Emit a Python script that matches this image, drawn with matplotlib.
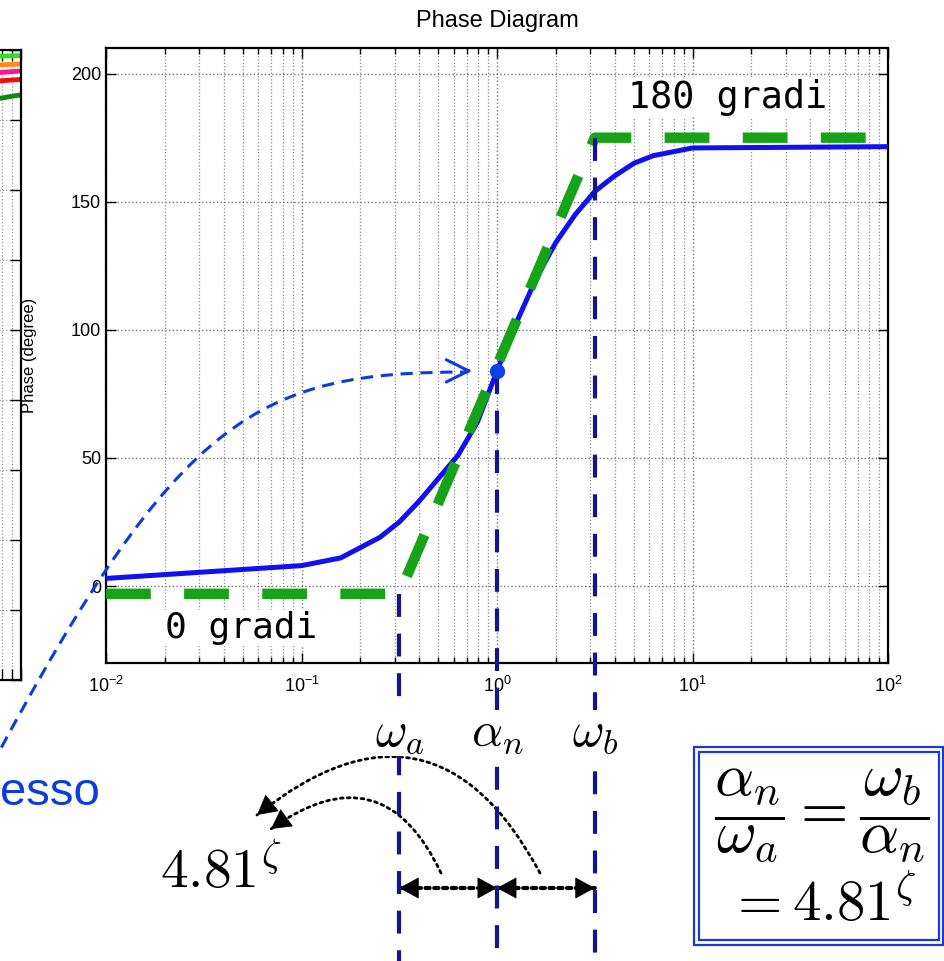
import numpy as np
import matplotlib.pyplot as plt
from matplotlib.patches import Rectangle, PathPatch
from matplotlib.path import Path

W, H = 944, 961

# phase curve (exponent of frequency, degrees)
freq_exp = [-2, -1.5, -1, -0.8, -0.7, -0.6, -0.5, -0.4, -0.3, -0.2, -0.1, 0,
            0.1, 0.2, 0.3, 0.4, 0.5, 0.6, 0.7, 0.8, 1, 2]
phase = [3, 5.5, 8, 11, 15, 19, 25, 33, 42, 51, 64, 84,
         103, 120, 134, 145, 154, 160, 165, 168, 171, 171.5]

# straight-line approximation
w_a, alpha_n, w_b = 10 ** -0.5, 1.0, 10 ** 0.5
asym_freq = [1e-2, w_a, w_b, 1e2]
asym_phase = [-3, -3, 175, 175]
phase_at_alpha = 84

# the piece of the neighbouring plot that shows at the left edge
left_freq = [30, 100]
left_series = [[44, 46], [37, 40], [30, 35], [24, 29], [6, 18]]
left_colors = ['#33dd22', '#ff8c1a', '#ff1493', '#ee1111', '#118811']

yticks = [0, 50, 100, 150, 200]

blue = '#1010f0'
green = '#17a317'
navy = '#14148c'
arrow_blue = '#0a3ddc'


def fx(px):
    return px / W


def fy(py):
    return 1 - py / H


fig = plt.figure(figsize=(9.44, 9.61), dpi=100)
plt.rcParams['font.family'] = ['Liberation Sans', 'DejaVu Sans']

# left (cropped) plot
axl = fig.add_axes([fx(21 - 782), fy(680), fx(782), fy(50) - fy(680)])
axl.set_xscale('log')
axl.set_xlim(1e-2, 1e2)
axl.set_ylim(-400, 50)
axl.set_yticks(range(-400, 51, 50))
for vals, c in zip(left_series, left_colors):
    axl.plot(left_freq, vals, color=c, lw=3.5)
axl.grid(True, which='both', ls=':', color='0.6', lw=0.9)
axl.tick_params(which='both', direction='in', right=True, top=True,
                labelleft=False, labelbottom=False, length=8, width=1)
for s in axl.spines.values():
    s.set_linewidth(1.6)

# main phase plot
ax = fig.add_axes([fx(106), fy(663), fx(888) - fx(106), fy(48) - fy(663)])
ax.set_xscale('log')
ax.set_xlim(1e-2, 1e2)
ax.set_ylim(-30, 210)
ax.set_yticks(yticks)
ax.grid(True, which='major', ls=':', color='0.45', lw=1)
ax.grid(True, which='minor', axis='x', ls=':', color='0.55', lw=0.9)
ax.tick_params(which='both', direction='in', top=True, right=True, labelsize=13, width=1)
ax.tick_params(which='major', length=7)
ax.tick_params(which='minor', length=4)
ax.tick_params(axis='x', pad=9)
for s in ax.spines.values():
    s.set_linewidth(1.6)

ax.set_title('Phase Diagram', fontsize=17, pad=15)
ax.set_ylabel('Phase (degree)', fontsize=12)
ax.yaxis.set_label_coords(-0.088, 0.5)

ax.plot(10 ** np.array(freq_exp), phase, color=blue, lw=3.6, zorder=4)
ax.plot(asym_freq, asym_phase, color=green, lw=7.5, dashes=(4.3, 3.2), zorder=5)

# vertical markers running down past the axes
pos = ax.get_position()
y0, y1 = ax.get_ylim()
ybot = y0 - (y1 - y0) * pos.y0 / pos.height
for xv, ytop in [(w_a, asym_phase[1]), (alpha_n, phase_at_alpha), (w_b, asym_phase[2])]:
    ax.plot([xv, xv], [ytop, ybot], color=navy, lw=3, dashes=(5.5, 4),
            clip_on=False, zorder=6)
ax.plot([alpha_n], [phase_at_alpha], 'o', color='#1040e0', ms=10, zorder=7)

ax.text(fx(165), fy(628), '0 gradi', transform=fig.transFigure, fontsize=26,
        family='DejaVu Sans Mono', va='center', ha='left', zorder=3,
        bbox=dict(fc='white', ec='none', pad=1))
ax.text(fx(628), fy(97), '180 gradi', transform=fig.transFigure, fontsize=26.5,
        family='DejaVu Sans Mono', va='center', ha='left', zorder=3,
        bbox=dict(fc='white', ec='none', pad=1))

# labels under the axis
for xv, lab in [(w_a, r'$\omega_a$'), (alpha_n, r'$\alpha_n$'), (w_b, r'$\omega_b$')]:
    ax.annotate(lab, xy=(xv, fy(733)), xycoords=('data', 'figure fraction'),
                ha='center', va='center', fontsize=35, math_fontfamily='cm',
                annotation_clip=False, zorder=8,
                bbox=dict(fc='white', ec='none', pad=0.5))

# dashed blue arrow from "flesso" to the inflection point (cubic curve, figure pixels)
ctrl = [(-8, 765), (180, 412), (260, 372), (468, 372)]
curve = Path([(fx(x), fy(y)) for x, y in ctrl],
             [Path.MOVETO, Path.CURVE4, Path.CURVE4, Path.CURVE4])
fig.add_artist(PathPatch(curve, transform=fig.transFigure, fill=False,
                         ec=arrow_blue, lw=2.2, ls=(0, (4, 2.5))))
x_tip = 10 ** -0.128
ax.annotate('', xy=(x_tip, phase_at_alpha), xytext=(10 ** -0.16, phase_at_alpha),
            arrowprops=dict(arrowstyle='->,head_length=0.4,head_width=0.2',
                            color=arrow_blue, lw=2.2, mutation_scale=40,
                            shrinkA=0, shrinkB=0))
fig.text(0, fy(793), 'esso', color=arrow_blue, fontsize=34,
         ha='left', va='center')

head = dict(arrowstyle='-|>,head_length=0.55,head_width=0.3', color='k', lw=0.5,
            mutation_scale=24, shrinkA=0, shrinkB=0)

# dotted double arrows between the markers, solid heads
for xa, xb in [(w_a, alpha_n), (alpha_n, w_b)]:
    ax.annotate('', xy=(xb, fy(888)), xycoords=('data', 'figure fraction'),
                xytext=(xa, fy(888)), textcoords=('data', 'figure fraction'),
                annotation_clip=False,
                arrowprops=dict(arrowstyle='-', color='k', lw=3, ls=(0, (1, 1.1)),
                                shrinkA=0, shrinkB=0))
    for xv, off in [(xb, -3), (xa, 3)]:
        ax.annotate('', xy=(xv, fy(888)), xycoords=('data', 'figure fraction'),
                    xytext=(off, 0), textcoords='offset points',
                    annotation_clip=False, arrowprops=head)

# dotted curved arrows towards 4.81^zeta
rad = 0.6
for (xs, ys), (xe, ye) in [((540, 873), (257, 815)), ((441, 873), (271, 829))]:
    ax.annotate('', xy=(fx(xe), fy(ye)), xycoords='figure fraction',
                xytext=(fx(xs), fy(ys)), textcoords='figure fraction',
                annotation_clip=False,
                arrowprops=dict(arrowstyle='-', color='k', lw=2, ls=(0, (1, 1.5)),
                                connectionstyle=f'arc3,rad={rad}',
                                shrinkA=0, shrinkB=0))
    # direction of the curve at its end, for the solid head
    ax_, ay_ = xs, H - ys
    bx_, by_ = xe, H - ye
    cx = (ax_ + bx_) / 2 + rad * (by_ - ay_)
    cy = (ay_ + by_) / 2 - rad * (bx_ - ax_)
    t = np.array([bx_ - cx, by_ - cy])
    t = t / np.hypot(*t)
    ax.annotate('', xy=(fx(xe), fy(ye)), xycoords='figure fraction',
                xytext=(-3 * t[0], -3 * t[1]), textcoords='offset points',
                annotation_clip=False, arrowprops=head)

fig.text(fx(221), fy(873), r'$4.81^\zeta$', fontsize=40, math_fontfamily='cm',
         ha='center', va='center')

# boxed relation
box_c = '#1a3ad0'
fig.add_artist(Rectangle((fx(694), fy(945)), fx(943) - fx(694), fy(747) - fy(945),
                         transform=fig.transFigure, fill=False, ec=box_c, lw=1.6))
fig.add_artist(Rectangle((fx(699), fy(940)), fx(939) - fx(699), fy(752) - fy(940),
                         transform=fig.transFigure, fill=False, ec=box_c, lw=1.6))
fig.text(fx(822), fy(815), r'$\dfrac{\alpha_n}{\omega_a}=\dfrac{\omega_b}{\alpha_n}$',
         fontsize=44, math_fontfamily='cm', ha='center', va='center')
fig.text(fx(822), fy(906), r'$=4.81^\zeta$', fontsize=41, math_fontfamily='cm',
         ha='center', va='center')

fig.savefig('out.png', dpi=100)
